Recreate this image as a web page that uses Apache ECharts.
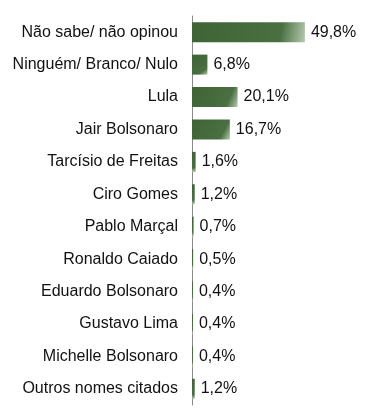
<!DOCTYPE html>
<html><head><meta charset="utf-8">
<script src="https://cdn.jsdelivr.net/npm/echarts@6/dist/echarts.min.js"></script>
<style>html,body{margin:0;padding:0;background:#fff}#c{width:369px;height:419px}</style>
</head><body><div id="c"></div>
<script>
const categories = ["Não sabe/ não opinou","Ninguém/ Branco/ Nulo","Lula","Jair Bolsonaro","Tarcísio de Freitas","Ciro Gomes","Pablo Marçal","Ronaldo Caiado","Eduardo Bolsonaro","Gustavo Lima","Michelle Bolsonaro","Outros nomes citados"];
const values = [49.8, 6.8, 20.1, 16.7, 1.6, 1.2, 0.7, 0.5, 0.4, 0.4, 0.4, 1.2];
const chart = echarts.init(document.getElementById('c'));
chart.setOption({
  animation: false,
  grid: {left: 192, right: 41, top: 16, bottom: 14},
  xAxis: {type: 'value', min: 0, max: 60, show: false},
  yAxis: {
    type: 'category', data: categories, inverse: true,
    axisLine: {lineStyle: {color: '#8a8a8a', width: 1}},
    axisTick: {length: 5, lineStyle: {color: '#8a8a8a'}},
    axisLabel: {margin: 14, color: '#111', fontSize: 16, fontFamily: 'Liberation Sans, Arial, sans-serif'}
  },
  series: [{
    type: 'bar', data: values, barWidth: 20,
    itemStyle: {color: new echarts.graphic.LinearGradient(0,0,1,1,[
      {offset:0,color:'#3e6335'},{offset:0.78,color:'#4a7042'},{offset:1,color:'#b5c9ae'}])},
    label: {show: true, position: 'right', distance: 6, color: '#111', fontSize: 16,
      fontFamily: 'Liberation Sans, Arial, sans-serif',
      formatter: p => p.value.toFixed(1).replace('.', ',') + '%'}
  }]
});
</script></body></html>
